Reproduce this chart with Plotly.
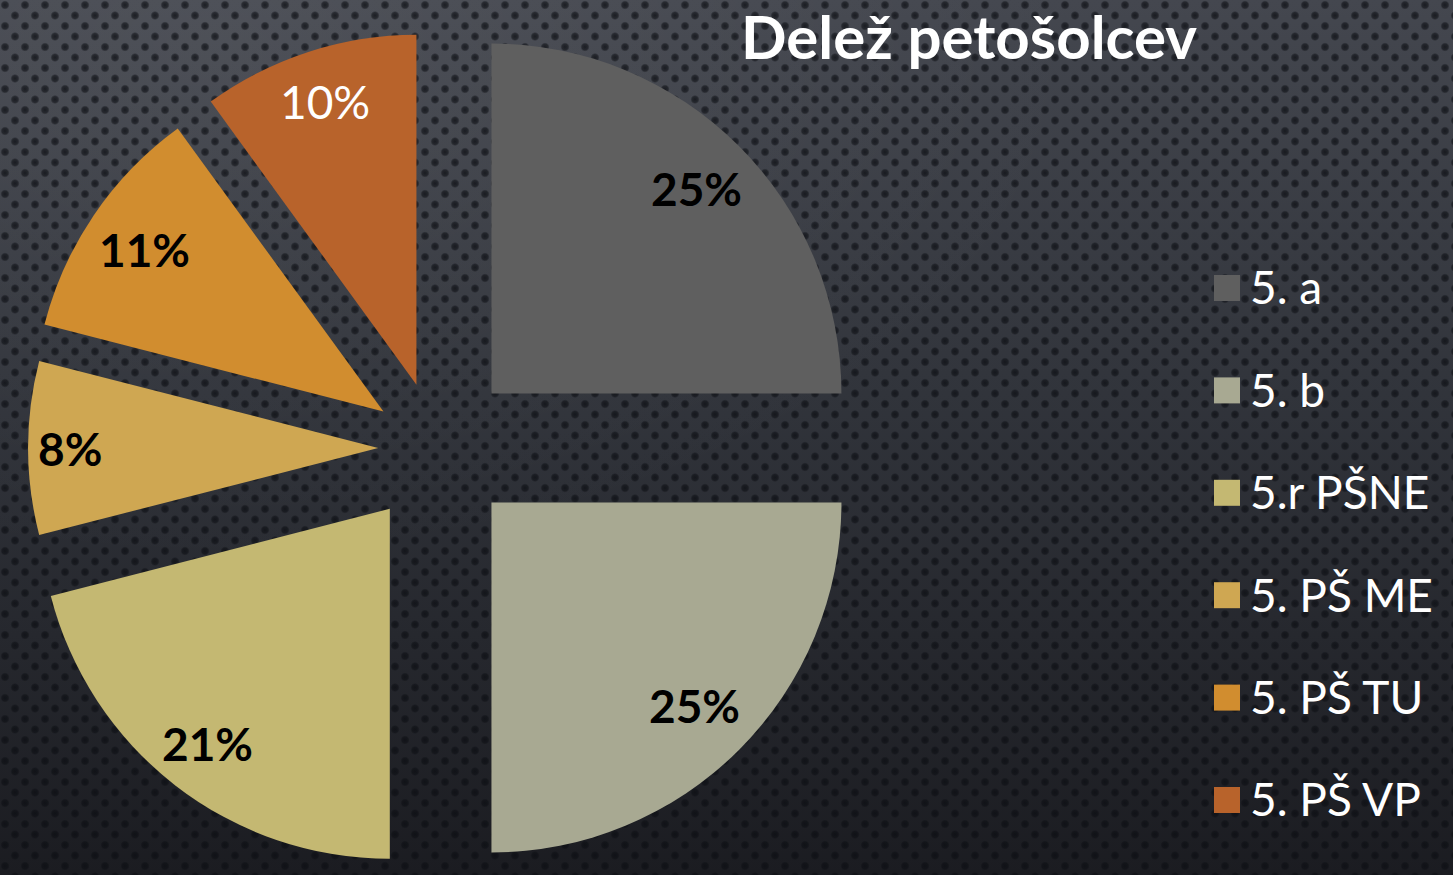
import base64
import math
import plotly.graph_objects as go

# ---- data ----
labels = ["5. a", "5. b", "5.r PŠNE", "5. PŠ ME", "5. PŠ TU", "5. PŠ VP"]
values = [25, 25, 21, 8, 11, 10]
colors = ["#5f5f5f", "#a8a992", "#c4b872", "#cfa752", "#d18d2f", "#b8632b"]
pulls = [0.22, 0.22, 0.22, 0.168, 0.185, 0.19]
label_bold = [True, True, True, True, True, False]
label_colors = ["#000000"] * 5 + ["#ffffff"]
label_radius = [0.83, 0.82, 0.85, 0.88, 0.825, 0.85]   # label distance (fraction of radius)
title_text = "Delež petošolcev"

W, H = 1453, 875

# ---- textured background (svg) ----
svg = f"""<svg xmlns='http://www.w3.org/2000/svg' width='{W}' height='{H}'>
<defs>
<linearGradient id='g' x1='0' y1='0' x2='0' y2='1'>
<stop offset='0' stop-color='#44474f'/>
<stop offset='0.45' stop-color='#31343b'/>
<stop offset='1' stop-color='#1b1c21'/>
</linearGradient>
<radialGradient id='h' cx='0.15' cy='0.05' r='0.6'>
<stop offset='0' stop-color='#ffffff' stop-opacity='0.06'/>
<stop offset='1' stop-color='#ffffff' stop-opacity='0'/>
</radialGradient>
<radialGradient id='d'>
<stop offset='0' stop-color='#0c0e13' stop-opacity='0.75'/>
<stop offset='0.65' stop-color='#0c0e13' stop-opacity='0.55'/>
<stop offset='1' stop-color='#0c0e13' stop-opacity='0'/>
</radialGradient>
<pattern id='p' width='20' height='21' patternUnits='userSpaceOnUse'>
<circle cx='5' cy='5' r='4.6' fill='url(#d)'/>
<circle cx='15' cy='15.5' r='4.6' fill='url(#d)'/>
</pattern>
</defs>
<rect width='100%' height='100%' fill='url(#g)'/>
<rect width='100%' height='100%' fill='url(#h)'/>
<rect width='100%' height='100%' fill='url(#p)'/>
</svg>"""
bg_src = "data:image/svg+xml;base64," + base64.b64encode(svg.encode()).decode()

# pie domain (paper fractions)
dom_x = [0, 874 / W]
dom_y = [0, 854 / H]

fig = go.Figure()
fig.add_trace(go.Pie(
    labels=labels,
    values=values,
    sort=False,
    direction="clockwise",
    rotation=0,
    pull=pulls,
    marker=dict(colors=colors, line=dict(width=0)),
    textinfo="none",
    domain=dict(x=dom_x, y=dom_y),
    showlegend=False,
    hoverinfo="label+percent",
))

# percentage labels placed along each slice's bisector (same geometry plotly uses)
box_w = W * (dom_x[1] - dom_x[0])
box_h = H * (dom_y[1] - dom_y[0])
r = min(box_w, box_h) / (2 * (1 + max(pulls)))
cx = W * (dom_x[0] + dom_x[1]) / 2
cy = H * (1 - (dom_y[0] + dom_y[1]) / 2)
total = sum(values)
cum = 0
annotations = []
for v, p, f, b, c in zip(values, pulls, label_radius, label_bold, label_colors):
    theta = 2 * math.pi * (cum + v / 2) / total
    cum += v
    d = (p + f) * r
    px = cx + d * math.sin(theta)
    py = cy - d * math.cos(theta)
    txt = f"{round(100 * v / total)}%"
    annotations.append(dict(
        x=px / W, y=1 - py / H, xref="paper", yref="paper",
        text=f"<b>{txt}</b>" if b else txt, showarrow=False,
        xanchor="center", yanchor="middle",
        font=dict(color=c, size=46, family="Lato"),
    ))

# custom legend drawn as scatter traces in helper axes
n = len(labels)
ypos = list(range(n - 1, -1, -1))
fig.add_trace(go.Scatter(
    x=[0] * n, y=ypos, mode="markers",
    marker=dict(symbol="square", size=26, color=colors, line=dict(width=0)),
    showlegend=False, hoverinfo="skip", cliponaxis=False,
))
fig.add_trace(go.Scatter(
    x=[0] * n, y=ypos, mode="markers+text", yaxis="y2",
    marker=dict(symbol="square", size=26, color="rgba(0,0,0,0)", line=dict(width=0)),
    text=labels,
    texttemplate="\u2009%{text}",
    textposition="middle right",
    textfont=dict(color="#ffffff", size=46, family="Lato"),
    showlegend=False, hoverinfo="skip", cliponaxis=False,
))

ytop = 288 - 51.2
ybot = ytop + 6 * 102.4
shift = 5
x0 = (1227 - 0.8 * W) / (0.2 * W)
fig.update_layout(
    width=W, height=H,
    margin=dict(l=0, r=0, t=0, b=0),
    paper_bgcolor="#2e3036",
    plot_bgcolor="rgba(0,0,0,0)",
    images=[dict(source=bg_src, xref="paper", yref="paper", x=0, y=1,
                 sizex=1, sizey=1, xanchor="left", yanchor="top",
                 sizing="stretch", layer="below")],
    xaxis=dict(domain=[0.8, 1], range=[-x0, 1 - x0], visible=False, fixedrange=True),
    yaxis=dict(domain=[1 - ybot / H, 1 - ytop / H], range=[-0.5, n - 0.5],
               visible=False, fixedrange=True),
    yaxis2=dict(domain=[1 - (ybot + shift) / H, 1 - (ytop + shift) / H], range=[-0.5, n - 0.5],
                visible=False, fixedrange=True, anchor="x"),
    title=dict(text=f"<b>{title_text}</b>", x=969 / W, xanchor="center",
               y=1 - 38 / H, yanchor="middle", yref="container",
               font=dict(color="#ffffff", size=60, family="Lato")),
    annotations=annotations,
    showlegend=False,
)

fig.write_html("out.html", config={"displayModeBar": False},
               post_script="document.body.style.margin='0';document.body.style.overflow='hidden';")
